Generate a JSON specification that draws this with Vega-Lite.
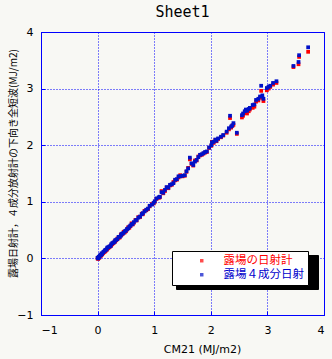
{
  "$schema": "https://vega.github.io/schema/vega-lite/v6.json",
  "autosize": {"type": "none"},
  "padding": {"left": 41, "top": 32, "right": 8, "bottom": 44},
  "width": 283,
  "height": 283,
  "background": "#f8f8f4",
  "title": {"text": "Sheet1", "font": "DejaVu Sans Mono", "fontSize": 15, "fontWeight": "normal", "color": "#000000", "offset": 6, "anchor": "middle"},
  "config": {
    "view": {"stroke": "#0000ff", "strokeWidth": 1},
    "axis": {
      "domainColor": "#0000ff", "domainWidth": 1,
      "gridColor": "#0000ff", "gridDash": [1, 2], "gridWidth": 1, "gridOpacity": 1,
      "tickColor": "#0000ff", "tickSize": -4, "tickWidth": 1,
      "labelFont": "DejaVu Sans", "labelFontSize": 11, "labelColor": "#000000",
      "titleFont": "Noto Sans CJK JP", "titleFontSize": 10, "titleFontWeight": "normal", "titleColor": "#000000"
    },
    "legend": {
      "title": null,
      "orient": "none", "padding": 4, "strokeWidth": 1,
      "symbolType": "square", "labelFont": "Noto Sans CJK JP", "labelFontSize": 11.5, "rowPadding": 1
    }
  },
  "data": {"values": [
    {"x":0.00,"b":0.01,"r":0.00},{"x":0.01,"b":0.00,"r":-0.01},{"x":0.02,"b":0.03,"r":0.02},{"x":0.03,"b":0.02,"r":0.01},
    {"x":0.04,"b":0.05,"r":0.04},{"x":0.05,"b":0.06,"r":0.04},{"x":0.06,"b":0.06,"r":0.05},{"x":0.07,"b":0.09,"r":0.07},
    {"x":0.08,"b":0.08,"r":0.07},{"x":0.10,"b":0.11,"r":0.09},{"x":0.11,"b":0.12,"r":0.11},{"x":0.13,"b":0.14,"r":0.12},
    {"x":0.14,"b":0.15,"r":0.13},{"x":0.16,"b":0.16,"r":0.15},{"x":0.17,"b":0.19,"r":0.17},{"x":0.19,"b":0.20,"r":0.18},
    {"x":0.21,"b":0.21,"r":0.20},{"x":0.23,"b":0.22,"r":0.22},{"x":0.24,"b":0.25,"r":0.23},{"x":0.26,"b":0.27,"r":0.25},
    {"x":0.28,"b":0.28,"r":0.27},{"x":0.30,"b":0.29,"r":0.30},{"x":0.31,"b":0.32,"r":0.30},{"x":0.33,"b":0.33,"r":0.32},
    {"x":0.35,"b":0.34,"r":0.35},{"x":0.37,"b":0.38,"r":0.36},{"x":0.39,"b":0.38,"r":0.37},{"x":0.41,"b":0.40,"r":0.42},
    {"x":0.42,"b":0.43,"r":0.41},{"x":0.44,"b":0.44,"r":0.43},{"x":0.46,"b":0.45,"r":0.47},{"x":0.48,"b":0.48,"r":0.46},
    {"x":0.50,"b":0.49,"r":0.48},{"x":0.52,"b":0.52,"r":0.51},{"x":0.54,"b":0.53,"r":0.55},{"x":0.56,"b":0.56,"r":0.54},
    {"x":0.58,"b":0.58,"r":0.57},{"x":0.60,"b":0.60,"r":0.62},{"x":0.62,"b":0.61,"r":0.60},{"x":0.64,"b":0.64,"r":0.63},
    {"x":0.67,"b":0.67,"r":0.68},{"x":0.69,"b":0.68,"r":0.67},{"x":0.72,"b":0.72,"r":0.73},{"x":0.75,"b":0.74,"r":0.73},
    {"x":0.78,"b":0.78,"r":0.79},{"x":0.80,"b":0.80,"r":0.78},{"x":0.83,"b":0.83,"r":0.84},{"x":0.86,"b":0.86,"r":0.85},
    {"x":0.89,"b":0.88,"r":0.87},{"x":0.92,"b":0.93,"r":0.92},{"x":0.96,"b":0.95,"r":0.96},{"x":0.99,"b":0.98,"r":0.97},
    {"x":1.01,"b":1.01,"r":1.00},{"x":1.04,"b":1.06,"r":1.05},{"x":1.08,"b":1.08,"r":1.07},{"x":1.10,"b":1.09,"r":1.08},
    {"x":1.13,"b":1.17,"r":1.19},{"x":1.16,"b":1.16,"r":1.15},{"x":1.19,"b":1.21,"r":1.19},{"x":1.22,"b":1.26,"r":1.25},
    {"x":1.25,"b":1.25,"r":1.24},{"x":1.28,"b":1.30,"r":1.29},{"x":1.31,"b":1.31,"r":1.30},{"x":1.34,"b":1.33,"r":1.35},
    {"x":1.37,"b":1.39,"r":1.38},{"x":1.40,"b":1.40,"r":1.39},{"x":1.43,"b":1.45,"r":1.43},{"x":1.46,"b":1.45,"r":1.47},
    {"x":1.50,"b":1.46,"r":1.45},{"x":1.54,"b":1.47,"r":1.46},{"x":1.57,"b":1.54,"r":1.53},{"x":1.60,"b":1.59,"r":1.60},
    {"x":1.63,"b":1.78,"r":1.75},{"x":1.66,"b":1.68,"r":1.67},{"x":1.69,"b":1.65,"r":1.64},{"x":1.72,"b":1.71,"r":1.73},
    {"x":1.75,"b":1.74,"r":1.73},{"x":1.78,"b":1.79,"r":1.80},{"x":1.81,"b":1.83,"r":1.82},{"x":1.84,"b":1.84,"r":1.83},
    {"x":1.87,"b":1.86,"r":1.85},{"x":1.90,"b":1.88,"r":1.87},{"x":1.93,"b":1.89,"r":1.88},{"x":1.97,"b":1.96,"r":1.95},
    {"x":2.01,"b":2.00,"r":1.99},{"x":2.02,"b":2.05,"r":2.06},{"x":2.05,"b":2.06,"r":2.04},{"x":2.08,"b":2.10,"r":2.09},
    {"x":2.10,"b":2.08,"r":2.07},{"x":2.13,"b":2.12,"r":2.11},{"x":2.18,"b":2.15,"r":2.14},{"x":2.22,"b":2.18,"r":2.17},
    {"x":2.28,"b":2.24,"r":2.22},{"x":2.32,"b":2.30,"r":2.28},{"x":2.34,"b":2.52,"r":2.48},{"x":2.36,"b":2.33,"r":2.31},
    {"x":2.38,"b":2.35,"r":2.34},{"x":2.40,"b":2.39,"r":2.36},{"x":2.46,"b":2.22,"r":2.20},{"x":2.55,"b":2.53,"r":2.49},
    {"x":2.57,"b":2.56,"r":2.52},{"x":2.60,"b":2.60,"r":2.58},{"x":2.62,"b":2.63,"r":2.57},{"x":2.64,"b":2.61,"r":2.56},
    {"x":2.67,"b":2.64,"r":2.60},{"x":2.69,"b":2.66,"r":2.63},{"x":2.74,"b":2.71,"r":2.66},{"x":2.77,"b":2.72,"r":2.68},
    {"x":2.80,"b":2.80,"r":2.77},{"x":2.84,"b":2.82,"r":2.79},{"x":2.87,"b":2.86,"r":2.84},{"x":2.89,"b":3.05,"r":2.96},
    {"x":2.91,"b":2.88,"r":2.84},{"x":2.93,"b":2.82,"r":2.78},{"x":2.99,"b":3.01,"r":2.97},{"x":3.02,"b":3.03,"r":3.00},
    {"x":3.05,"b":3.05,"r":3.03},{"x":3.10,"b":3.10,"r":3.07},{"x":3.16,"b":3.13,"r":3.10},{"x":3.46,"b":3.40,"r":3.38},
    {"x":3.55,"b":3.47,"r":3.43},{"x":3.56,"b":3.59,"r":3.56},{"x":3.72,"b":3.73,"r":3.65}
  ]},
  "encoding": {
    "x": {"field": "x", "type": "quantitative",
      "scale": {"domain": [-1, 4], "nice": false},
      "axis": {"values": [-1, 0, 1, 2, 3, 4], "format": "d", "title": "CM21 (MJ/m2)", "titleFont": "DejaVu Sans", "titleFontSize": 11, "titleX": 161, "titleY": 34, "titleBaseline": "middle", "labelPadding": 13}
    }
  },
  "layer": [
    {
      "mark": {"type": "square", "size": 14},
      "encoding": {
        "y": {"field": "r", "type": "quantitative",
          "scale": {"domain": [-1, 4], "nice": false},
          "axis": {"values": [-1, 0, 1, 2, 3, 4], "format": "d", "title": "露場日射計，４成分放射計の下向き全短波(MJ/m2)", "titleX": -28, "titleY": 131, "titleAngle": -90, "titleBaseline": "middle", "titleAlign": "center", "labelPadding": 12}
        },
        "color": {"datum": "露場の日射計", "type": "nominal",
          "scale": {"domain": ["露場の日射計", "露場４成分日射"], "range": ["#ff0000", "#0010c8"]},
          "legend": {"legendX": 131, "legendY": 219, "zindex": 2,
            "fillColor": "#ffffff", "strokeColor": "#000000",
            "symbolSize": 12, "symbolOffset": 20, "labelOffset": 16,
            "labelColor": {"expr": "datum.value === '露場の日射計' ? '#ff0000' : '#0000cc'"}
          }
        },
        "opacity": {"datum": "shadow1", "type": "ordinal",
          "scale": {"domain": ["shadow1", "shadow2"], "range": [1, 1]},
          "legend": {"legendX": 135, "legendY": 223, "zindex": 1,
            "fillColor": "#000000", "strokeColor": "#000000",
            "symbolSize": 12, "symbolOffset": 0, "labelOffset": 119,
            "symbolFillColor": "#000000", "symbolStrokeColor": "#000000",
            "labelColor": "#000000", "labelExpr": "'.'"
          }
        }
      }
    },
    {
      "mark": {"type": "square", "size": 14},
      "encoding": {
        "y": {"field": "b", "type": "quantitative"},
        "color": {"datum": "露場４成分日射", "type": "nominal"},
        "opacity": {"datum": "shadow2", "type": "ordinal"}
      }
    }
  ]
}
